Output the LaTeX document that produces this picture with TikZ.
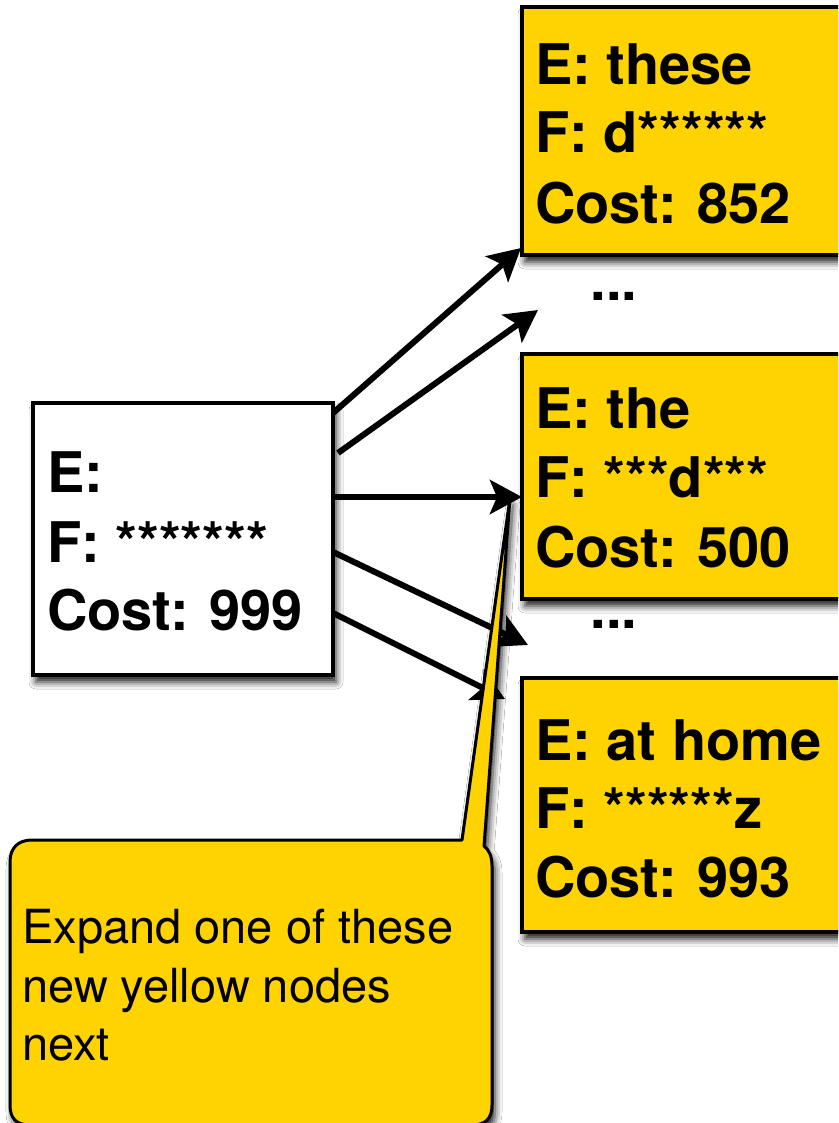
\documentclass[tikz,border=0pt]{standalone}
\usepackage{fontspec}
\setmainfont{TeX Gyre Heros}
\usetikzlibrary{arrows.meta,shadows.blur}
\definecolor{gold}{RGB}{255,211,0}
\begin{document}
\begin{tikzpicture}[x=1pt,y=-1pt,
  shad/.style={blur shadow={shadow xshift=3pt, shadow yshift=-7pt, shadow blur radius=7pt, shadow opacity=90}},
  box/.style={draw=black, line width=4.5pt, inner sep=0pt, outer sep=0pt, anchor=north west, shad},
  wbox/.style={box, fill=white},
  ybox/.style={box, fill=gold},
  big/.style={font=\fontsize{56}{67}\selectfont\bfseries, anchor=base west, inner sep=0pt},
  small/.style={font=\fontsize{47}{59}\selectfont, anchor=base west, inner sep=0pt},
  arr/.style={line width=6pt, -{Stealth[length=32pt,width=34pt,inset=7pt]}},
  callout/.style={draw=black, line width=3pt, fill=gold, line join=round, shad},
]
\clip (0,0) rectangle (838,1123);
\fill[white] (0,0) rectangle (838,1123);

% root node
\node[wbox, minimum width=300pt, minimum height=272pt] (root) at (33,403) {};
\node[big] (r1) at (47,492) {E:};
\node[big] (r2) at (47,562) {F: *******};
\node[big] (r3) at (47,630) {Cost: 999};

% arrow end points
\coordinate (a1s) at (333,413); \coordinate (a1e) at (521,248);
\coordinate (a2s) at (338,453); \coordinate (a2e) at (538,310);
\coordinate (a3s) at (333,497); \coordinate (a3e) at (522,497);
\coordinate (a4s) at (333,552); \coordinate (a4e) at (528,645);
\coordinate (a5s) at (333,613); \coordinate (a5e) at (505,699);

\draw[arr] (a1s) -- (a1e);
\draw[arr] (a2s) -- (a2e);
\draw[arr] (a3s) -- (a3e);
\draw[arr] (a4s) -- (a4e);
\draw[arr] (a5s) -- (a5e);

% yellow nodes
\node[ybox, minimum width=360pt, minimum height=248pt] (y1) at (522,7) {};
\node[big] (y1a) at (535,85) {E: these};
\node[big] (y1b) at (535,153) {F: d******};
\node[big] (y1c) at (535,223) {Cost: 852};

\node[ybox, minimum width=360pt, minimum height=245pt] (y2) at (522,354) {};
\node[big] (y2a) at (535,428) {E: the};
\node[big] (y2b) at (535,497) {F: ***d***};
\node[big] (y2c) at (535,567) {Cost: 500};

\node[ybox, minimum width=360pt, minimum height=254pt] (y3) at (522,678) {};
\node[big] (y3a) at (535,760) {E: at home};
\node[big] (y3b) at (535,828) {F: ******z};
\node[big] (y3c) at (535,897) {Cost: 993};

\node[big, anchor=base] (dots1) at (614,300) {...};
\node[big, anchor=base] (dots2) at (614,628) {...};

% callout
\draw[callout] (10,1105) -- (10,862) .. controls (10,848) and (18,840) .. (32,840)
  -- (462,840) -- (510,498) -- (484,846) .. controls (489,850) and (492,856) .. (492,866)
  -- (492,1105) .. controls (492,1118) and (486,1125) .. (472,1125)
  -- (30,1125) .. controls (16,1125) and (10,1118) .. cycle;
\node[small] (c1) at (22,943) {Expand one of these};
\node[small] (c2) at (22,1002) {new yellow nodes};
\node[small] (c3) at (22,1060) {next};
\end{tikzpicture}
\end{document}
